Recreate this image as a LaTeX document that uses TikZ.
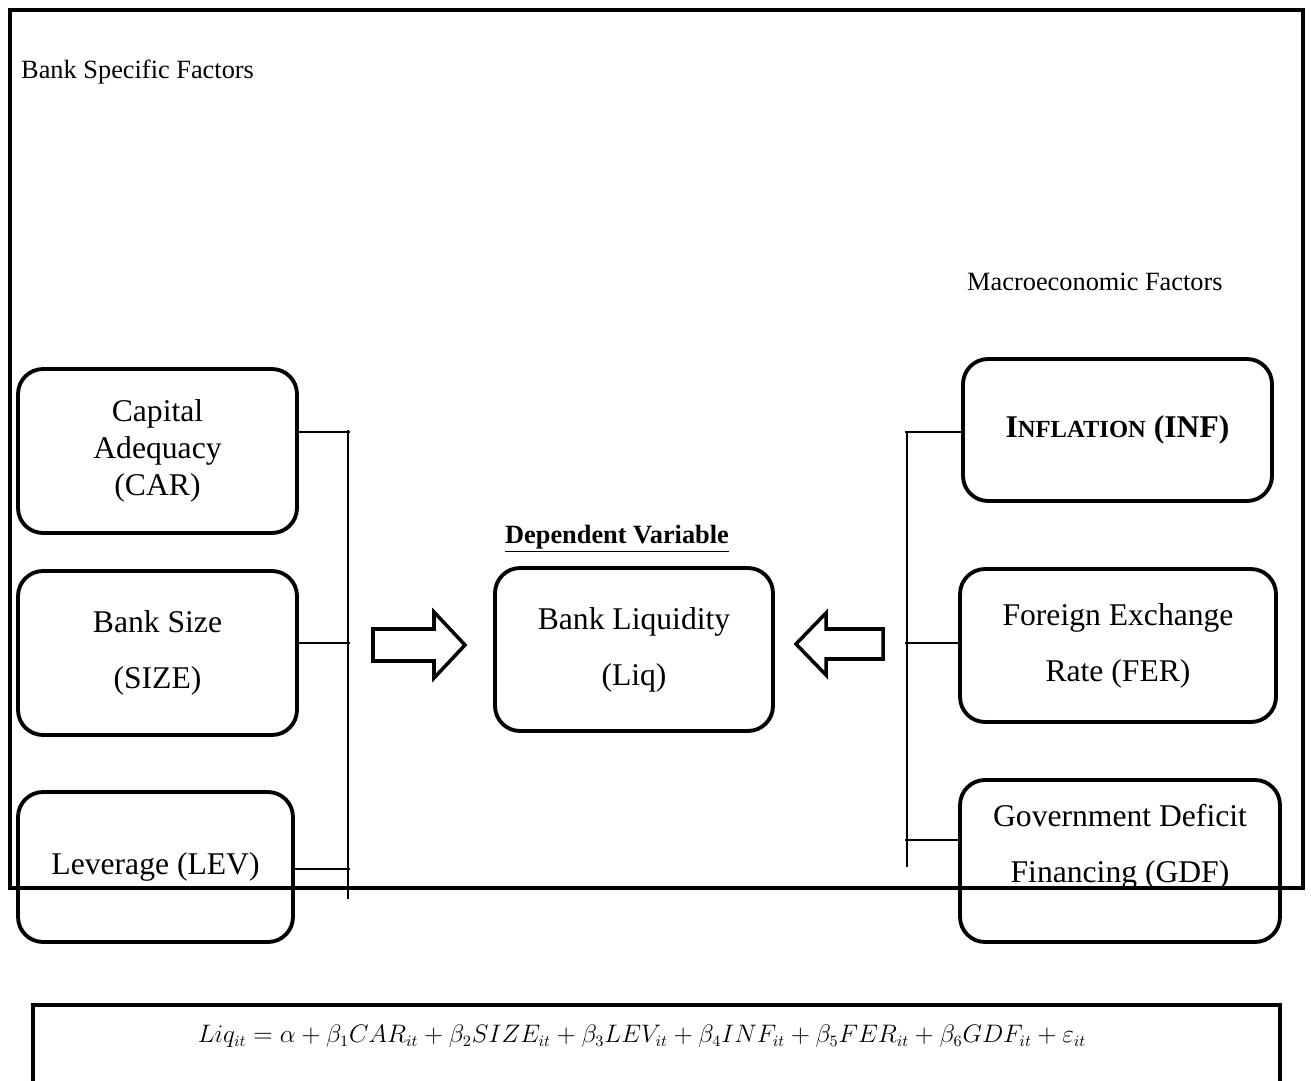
\documentclass[tikz,border=0pt]{standalone}
\usepackage{fontspec}
\setmainfont{Liberation Serif}
\usetikzlibrary{positioning}

\begin{document}
\begin{tikzpicture}[
        x=0.02cm, y=-0.02cm,
        factor/.style={draw, line width=2.2pt, rounded corners=0.5cm, align=center, inner sep=0pt, font=\fontsize{18}{21}\selectfont},
        wide/.style={font=\fontsize{18}{32}\selectfont},
        frame/.style={line width=2.3pt},
        link/.style={line width=0.8pt},
        blockarrow/.style={draw, line width=2pt, miter limit=4},
        heading/.style={font=\fontsize{15}{18}\selectfont}
    ]
        \useasboundingbox (0,0) rectangle (1311,1081);
        \draw[frame] (10,10) rectangle (1303,888);

        \node[heading, anchor=west] (bsf) at (15,72) {Bank Specific Factors};
        \node[heading, anchor=west] (mef) at (961,282) {Macroeconomic Factors};

        \node[factor, minimum width=5.58cm, minimum height=3.28cm] (car) at (157.5,451) {Capital\\Adequacy\\(CAR)};
        \node[factor, wide, minimum width=5.58cm, minimum height=3.28cm] (size) at (157.5,653) {Bank Size\\(SIZE)};
        \node[factor, minimum width=5.5cm, minimum height=3cm] (lev) at (155.5,867) {Leverage (LEV)};

        \node[factor, minimum width=6.18cm, minimum height=2.84cm] (inf) at (1117.5,430) {\textbf{I{\fontsize{14}{17}\selectfont NFLATION} (INF)}};
        \node[factor, wide, minimum width=6.32cm, minimum height=3.06cm] (fer) at (1118,645.5) {Foreign Exchange\\Rate (FER)};
        \node[factor, wide, minimum width=6.4cm, minimum height=3.24cm, text depth=0.7cm] (gdf) at (1120,861) {Government Deficit\\Financing (GDF)};

        \node[factor, wide, minimum width=5.56cm, minimum height=3.26cm] (liq) at (634,649.5) {Bank Liquidity\\(Liq)};
        \node[heading, above=0.14cm of liq, xshift=-0.34cm] (dep) {\textbf{\underline{Dependent Variable}}};

        \coordinate (ltop) at (348,430);
        \coordinate (lbot) at (348,899);
        \coordinate (rtop) at (907,432);
        \coordinate (rbot) at (907,867);
        \draw[link] (ltop) -- (lbot);
        \draw[link] (rtop) -- (rbot);
        \draw[link] ([yshift=0.38cm]car.east) -- ++(51,0);
        \draw[link] ([yshift=0.2cm]size.east) -- ++(51,0);
        \draw[link] ([yshift=-0.04cm]lev.east) -- ++(55,0);
        \draw[link] ([yshift=-0.04cm]inf.west) -- ++(-56,0);
        \draw[link] ([yshift=0.05cm]fer.west) -- ++(-53,0);
        \draw[link] ([yshift=0.42cm]gdf.west) -- ++(-53,0);

        \draw[blockarrow] (373,629) -- (434,629) -- (434,612) -- (465,645) -- (434,678) -- (434,661) -- (373,661) -- cycle;
        \draw[blockarrow] (883,629) -- (826,629) -- (826,613) -- (796,644) -- (826,675) -- (826,659) -- (883,659) -- cycle;

        \draw[frame] (33,1081) -- (33,1005) -- (1280,1005) -- (1280,1081);
        \node[font=\fontsize{13.5}{16}\selectfont] (eqn) at (642,1036) {$Liq_{it}=\alpha+\beta_1CAR_{it}+\beta_2SIZE_{it}+\beta_3LEV_{it}+\beta_4INF_{it}+\beta_5FER_{it}+\beta_6GDF_{it}+\varepsilon_{it}$};
    \end{tikzpicture}
\end{document}
